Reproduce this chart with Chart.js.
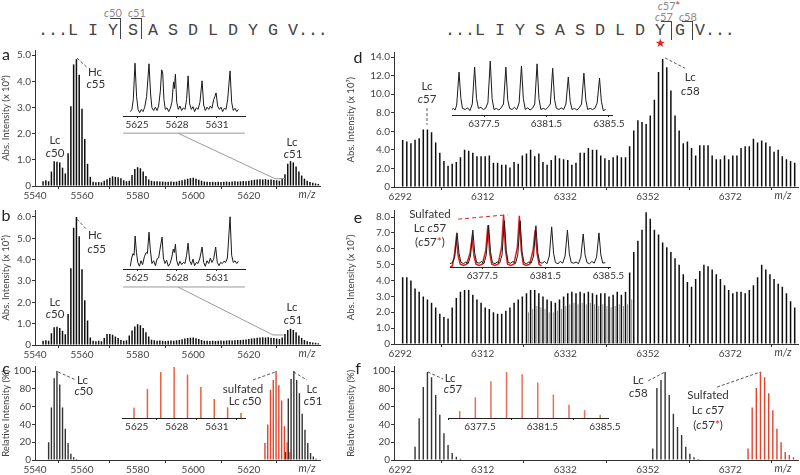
<!DOCTYPE html>
<html>
<head>
<meta charset="utf-8">
<script src="https://cdn.jsdelivr.net/npm/chart.js@4.4.1/dist/chart.umd.min.js"></script>
<style>
  body { margin: 0; background: #fff; width: 800px; height: 475px; overflow: hidden; position: relative; font-family: Lato, "Open Sans", sans-serif; color: #333; }
  canvas { position: absolute; }
  .t { position: absolute; white-space: pre; transform: translate(-50%, -50%); line-height: 1; }
  .seq { position: absolute; font-family: "Liberation Mono", monospace; font-size: 16.67px; line-height: 1; white-space: pre; color: #444; }
  .br { position: absolute; border-top: 1.3px solid #444; border-right: 1.3px solid #444; }
  .lab { font-size: 16px; color: #222; }
  .cut { font-size: 11px; color: #8a8a8a; }
</style>
</head>
<body>

<div class="seq" style="left:38px;top:23px">...L I Y S A S D L D Y G V...</div>
<div class="br" style="left:110px;top:18px;width:10px;height:20px"></div>
<div class="br" style="left:131px;top:18px;width:10px;height:20px"></div>
<div class="t cut" style="left:113px;top:12px"><i>c</i>50</div>
<div class="t cut" style="left:137px;top:12px"><i>c</i>51</div>

<div class="seq" style="left:445px;top:23px">...L I Y S A S D L D Y G V...</div>
<div class="br" style="left:661px;top:21px;width:10px;height:18px"></div>
<div class="br" style="left:682px;top:21px;width:10px;height:18px"></div>
<div class="t cut" style="left:669px;top:5px"><i>c</i>57<span style="color:#d22">*</span></div>
<div class="t cut" style="left:664px;top:16px"><i>c</i>57</div>
<div class="t cut" style="left:688px;top:16px"><i>c</i>58</div>
<div class="t" style="left:660px;top:43px;color:#d22;font-size:12px">★</div>

<script>
// ---- axes ----
const xTicksLeft = [5540, 5560, 5580, 5600, 5620];
const xTicksRight = [6292, 6312, 6332, 6352, 6372];
const xTicksInsetLeft = [5625, 5628, 5631];
const xTicksInsetRight = [6377.5, 6381.5, 6385.5];
const yTicksA = [0, 1, 2, 3, 4, 5];
const yTicksB = [0, 1, 2, 3, 4, 5, 6];
const yTicksD = [0, 2, 4, 6, 8, 10, 12, 14];
const yTicksE = [0, 1, 2, 3, 4, 5, 6, 7, 8];
const yTicksRel = [0, 20, 40, 60, 80, 100];

// ---- panel a / b: first peak m/z, one peak per Da ----
const mzStartAB = 5546;
const heightsA = [0.18, 0.22, 0.18, 0.55, 0.95, 0.93, 0.9, 0.7, 0.48, 1.25,
  3.05, 4.65, 4.85, 4.25, 2.95, 1.8, 0.85, 0.35, 0.16, 0.14,
  0.15, 0.14, 0.2, 0.26, 0.32, 0.37, 0.35, 0.33, 0.3, 0.22,
  0.18, 0.2, 0.42, 0.65, 0.72, 0.68, 0.55, 0.38, 0.25, 0.2,
  0.18, 0.18, 0.17, 0.17, 0.16, 0.16, 0.17, 0.16, 0.17, 0.2,
  0.22, 0.25, 0.28, 0.3, 0.32, 0.28, 0.24, 0.2, 0.17, 0.16,
  0.15, 0.16, 0.15, 0.16, 0.15, 0.16, 0.17, 0.16, 0.17, 0.18,
  0.17, 0.18, 0.19, 0.18, 0.2, 0.22, 0.24, 0.25, 0.26, 0.25,
  0.26, 0.24, 0.25, 0.23, 0.22, 0.2, 0.3, 0.45, 0.85, 0.95,
  0.9, 0.75, 0.55, 0.4, 0.28, 0.2, 0.15, 0.12, 0.1, 0.08];
const heightsB = [0.2, 0.22, 0.2, 0.55, 0.83, 0.86, 0.8, 0.67, 0.5, 1.45,
  3.6, 5.5, 6.0, 5.1, 3.55, 2.1, 1.15, 0.35, 0.2, 0.18,
  0.2, 0.18, 0.33, 0.52, 0.52, 0.48, 0.4, 0.33, 0.24, 0.2,
  0.22, 0.45, 0.68, 0.87, 0.97, 0.92, 0.8, 0.6, 0.4, 0.25,
  0.22, 0.2, 0.21, 0.2, 0.19, 0.2, 0.21, 0.2, 0.22, 0.24,
  0.27, 0.3, 0.33, 0.34, 0.35, 0.32, 0.28, 0.24, 0.2, 0.2,
  0.19, 0.2, 0.19, 0.2, 0.21, 0.2, 0.21, 0.22, 0.21, 0.22,
  0.23, 0.24, 0.25, 0.26, 0.28, 0.3, 0.32, 0.34, 0.35, 0.36,
  0.35, 0.36, 0.34, 0.33, 0.3, 0.28, 0.35, 0.52, 0.7, 0.76,
  0.7, 0.6, 0.45, 0.33, 0.24, 0.17, 0.14, 0.12, 0.1, 0.08];

// ---- panel c (relative %) ----
const mzStartC50 = 5548;
const relC50 = [20, 59, 92, 100, 85, 59, 35, 19, 7, 3, 1.2, 0.5];
const mzStartC50Sulf = 5625.8;
const relC50Sulf = [19, 40, 79, 90, 100, 84, 67, 38, 20, 9];
const mzStartC51 = 5633.2;
const relC51 = [9, 69, 91, 100, 90, 75, 52, 34, 19, 8, 4, 1.5];

// ---- panel d / e ----
const mzStartDE = 6292.6;
const heightsD = [5.07, 4.9, 4.7, 5.1, 5.25, 6.2, 6.2, 5.9, 4.8, 3.7,
  2.8, 2.3, 2.5, 2.7, 3.2, 4.0, 3.9, 3.7, 3.3, 3.3,
  3.3, 3.4, 2.6, 2.6, 2.4, 2.4, 2.1, 2.7, 2.5, 3.4,
  3.6, 4.0, 3.3, 3.6, 2.7, 2.4, 2.9, 3.4, 3.1, 3.0,
  2.9, 2.4, 2.6, 3.7, 3.7, 4.2, 4.0, 4.0, 3.4, 3.1,
  2.9, 3.2, 3.4, 3.2, 3.2, 4.4, 6.1, 7.2, 7.0, 6.8,
  7.7, 9.4, 12.4, 13.8, 12.9, 10.4, 7.7, 6.1, 4.7, 4.9,
  4.2, 3.4, 4.5, 4.5, 4.5, 3.4, 3.0, 3.0, 3.4, 3.0,
  3.4, 3.4, 4.2, 4.4, 4.4, 5.2, 4.8, 5.0, 4.8, 4.4,
  3.8, 4.0, 3.3, 3.0, 2.8, 2.6];
const heightsE = [4.2, 4.2, 4.0, 3.5, 3.3, 3.0, 2.8, 2.6, 2.3, 1.9,
  1.7, 1.6, 2.3, 2.9, 3.3, 3.4, 3.4, 3.1, 2.8, 2.6,
  2.3, 2.2, 2.0, 1.9, 1.9, 2.1, 2.3, 2.6, 2.8, 3.0,
  3.2, 3.4, 3.4, 3.2, 3.0, 2.8, 2.7, 2.6, 2.8, 3.0,
  3.2, 3.3, 3.2, 3.3, 3.2, 3.3, 3.2, 3.1, 3.2, 3.2,
  3.0, 3.1, 3.3, 3.1, 3.3, 4.5, 5.8, 6.5, 7.2, 8.3,
  7.9, 7.2, 6.9, 6.4, 6.1, 5.8, 5.4, 5.0, 4.4, 3.9,
  3.6, 4.1, 4.6, 5.0, 4.9, 4.7, 4.4, 4.1, 3.7, 3.4,
  3.2, 3.3, 3.3, 3.2, 3.4, 3.7, 4.2, 5.0, 4.7, 4.4,
  4.1, 3.8, 3.6, 3.2, 2.7, 2.3, 2.1];
const mzStartEMinor = 6323.1;
const heightsEMinor = [2.0, 2.2, 2.4, 2.3, 2.2, 2.0, 2.0, 2.1, 2.2, 2.4,
  2.5, 2.6, 2.5, 2.6, 2.5, 2.6, 2.5, 2.4, 2.5, 2.4,
  2.3, 2.4, 2.5, 2.4, 2.5, 2.8];

// ---- panel f (relative %) ----
const mzStartF57 = 6295.6;
const relF57 = [15, 47, 82, 99, 93, 73, 51, 30, 17, 8, 3.7, 1.5];
const mzStartF58 = 6353.2;
const relF58 = [13, 81, 90, 99, 73, 52, 37, 28, 15, 7, 3, 1];
const mzStartF57Sulf = 6376.3;
const relF57Sulf = [13, 59, 81, 99, 93, 75, 56, 35, 20, 9, 5.5, 3];

// ---- insets ----
const insetAProfile = [[5624.5,0.08],[5624.62,0.12],[5624.72,0.3],[5624.85,0.96],[5624.97,0.35],[5625.08,0.12],[5625.2,0.06],[5625.32,0.12],[5625.45,0.08],[5625.58,0.16],[5625.72,0.35],[5625.9,0.95],[5626.02,0.4],[5626.12,0.15],[5626.25,0.1],[5626.38,0.16],[5626.5,0.1],[5626.62,0.18],[5626.75,0.45],[5626.85,0.84],[5626.93,0.78],[5627.02,0.3],[5627.12,0.12],[5627.25,0.15],[5627.38,0.08],[5627.5,0.14],[5627.62,0.25],[5627.74,0.62],[5627.8,0.5],[5627.88,0.76],[5627.98,0.25],[5628.1,0.12],[5628.22,0.18],[5628.35,0.1],[5628.48,0.15],[5628.6,0.12],[5628.72,0.3],[5628.83,0.73],[5628.95,0.22],[5629.08,0.12],[5629.2,0.17],[5629.32,0.08],[5629.45,0.15],[5629.58,0.12],[5629.72,0.25],[5629.88,0.64],[5630.0,0.2],[5630.12,0.1],[5630.25,0.16],[5630.38,0.12],[5630.5,0.18],[5630.62,0.14],[5630.75,0.3],[5630.85,0.36],[5630.93,0.42],[5631.05,0.18],[5631.18,0.12],[5631.3,0.16],[5631.42,0.08],[5631.55,0.14],[5631.68,0.12],[5631.8,0.3],[5631.98,0.82],[5632.1,0.25],[5632.22,0.1],[5632.35,0.14],[5632.48,0.08],[5632.6,0.12]];
const insetBProfile = [[5624.5,0.05],[5624.6,0.2],[5624.7,0.28],[5624.78,0.25],[5624.86,0.6],[5624.96,0.3],[5625.06,0.12],[5625.18,0.05],[5625.3,0.15],[5625.42,0.08],[5625.55,0.22],[5625.68,0.3],[5625.78,0.28],[5625.9,0.67],[5626.0,0.35],[5626.12,0.1],[5626.25,0.15],[5626.38,0.06],[5626.5,0.18],[5626.62,0.2],[5626.72,0.35],[5626.88,0.58],[5626.98,0.2],[5627.1,0.1],[5627.22,0.16],[5627.35,0.05],[5627.48,0.1],[5627.6,0.2],[5627.72,0.36],[5627.8,0.3],[5627.88,0.45],[5627.98,0.15],[5628.1,0.06],[5628.22,0.14],[5628.35,0.08],[5628.48,0.12],[5628.6,0.1],[5628.72,0.25],[5628.83,0.47],[5628.95,0.15],[5629.08,0.08],[5629.2,0.18],[5629.32,0.06],[5629.45,0.12],[5629.58,0.1],[5629.72,0.2],[5629.88,0.4],[5630.0,0.12],[5630.12,0.05],[5630.25,0.15],[5630.38,0.1],[5630.5,0.2],[5630.62,0.12],[5630.75,0.18],[5630.9,0.4],[5631.02,0.12],[5631.15,0.06],[5631.28,0.12],[5631.4,0.1],[5631.52,0.14],[5631.65,0.12],[5631.78,0.2],[5631.98,0.95],[5632.1,0.25],[5632.22,0.12],[5632.35,0.15],[5632.48,0.1],[5632.6,0.14]];
const insetCMzStart = 5624.8;
const insetCRel = [20, 57, 90, 100, 85, 61, 37, 21, 10];
const insetDProfile = [[6375.45,0.1],[6375.55,0.12],[6375.65,0.09],[6375.75,0.18],[6375.9,0.78],[6376.02,0.3],[6376.12,0.12],[6376.3,0.1],[6376.45,0.13],[6376.6,0.08],[6376.75,0.2],[6376.9,0.87],[6377.02,0.3],[6377.14,0.12],[6377.3,0.14],[6377.45,0.1],[6377.6,0.12],[6377.75,0.22],[6377.9,0.98],[6378.02,0.3],[6378.14,0.1],[6378.3,0.12],[6378.45,0.09],[6378.6,0.13],[6378.75,0.2],[6378.9,0.87],[6379.02,0.28],[6379.14,0.12],[6379.3,0.1],[6379.45,0.14],[6379.6,0.1],[6379.75,0.22],[6379.9,0.89],[6380.02,0.3],[6380.14,0.1],[6380.3,0.13],[6380.45,0.09],[6380.6,0.12],[6380.75,0.2],[6380.9,0.93],[6381.02,0.3],[6381.14,0.1],[6381.3,0.12],[6381.45,0.1],[6381.6,0.14],[6381.75,0.2],[6381.9,0.85],[6382.02,0.28],[6382.14,0.12],[6382.3,0.1],[6382.45,0.13],[6382.6,0.1],[6382.75,0.2],[6382.9,0.69],[6383.02,0.25],[6383.14,0.1],[6383.3,0.12],[6383.45,0.09],[6383.6,0.13],[6383.75,0.2],[6383.9,0.76],[6384.02,0.28],[6384.14,0.1],[6384.3,0.12],[6384.45,0.1],[6384.6,0.12],[6384.75,0.22],[6384.9,0.67],[6385.02,0.25],[6385.14,0.08],[6385.3,0.1]];
const insetEProfile = [[6375.45,0.06],[6375.6,0.08],[6375.75,0.18],[6375.9,0.62],[6376.02,0.25],[6376.14,0.09],[6376.3,0.06],[6376.45,0.09],[6376.6,0.06],[6376.75,0.2],[6376.9,0.67],[6377.02,0.25],[6377.14,0.08],[6377.3,0.07],[6377.45,0.1],[6377.6,0.06],[6377.75,0.22],[6377.9,0.76],[6378.02,0.28],[6378.14,0.08],[6378.3,0.06],[6378.45,0.09],[6378.6,0.07],[6378.75,0.22],[6378.9,0.84],[6379.02,0.3],[6379.14,0.08],[6379.3,0.07],[6379.45,0.1],[6379.6,0.06],[6379.75,0.22],[6379.9,0.84],[6380.02,0.28],[6380.14,0.08],[6380.3,0.06],[6380.45,0.09],[6380.6,0.07],[6380.75,0.2],[6380.9,0.75],[6381.02,0.26],[6381.14,0.08],[6381.3,0.07],[6381.45,0.1],[6381.6,0.06],[6381.75,0.2],[6381.9,0.73],[6382.02,0.25],[6382.14,0.08],[6382.3,0.06],[6382.45,0.1],[6382.6,0.07],[6382.75,0.2],[6382.9,0.67],[6383.02,0.24],[6383.14,0.08],[6383.3,0.07],[6383.45,0.09],[6383.6,0.06],[6383.75,0.18],[6383.9,0.6],[6384.02,0.22],[6384.14,0.08],[6384.3,0.06],[6384.45,0.1],[6384.6,0.07],[6384.75,0.18],[6384.9,0.62],[6385.02,0.22],[6385.14,0.07],[6385.3,0.08]];
const insetESulfProfile = [[6375.45,0.0],[6375.6,0.02],[6375.72,0.2],[6375.85,0.53],[6375.97,0.2],[6376.1,0.05],[6376.3,0.03],[6376.5,0.05],[6376.72,0.25],[6376.85,0.53],[6376.97,0.2],[6377.1,0.05],[6377.3,0.03],[6377.5,0.05],[6377.72,0.3],[6377.85,0.76],[6377.97,0.25],[6378.1,0.05],[6378.3,0.03],[6378.5,0.05],[6378.72,0.35],[6378.85,0.95],[6378.97,0.3],[6379.1,0.05],[6379.3,0.03],[6379.5,0.05],[6379.72,0.35],[6379.85,0.93],[6379.97,0.3],[6380.1,0.05],[6380.3,0.03],[6380.5,0.05],[6380.72,0.3],[6380.85,0.67],[6380.97,0.25],[6381.1,0.05],[6381.25,0.02]];
const insetFMzStart = 6376.2;
const insetFRel = [15, 45, 80, 100, 95, 77, 51, 29, 17, 7];

// ---------------------------------------------------------------
Chart.defaults.font.family = "Lato, 'Open Sans', sans-serif";
Chart.defaults.font.size = 10;
Chart.defaults.color = '#444';

const INK = '#0e0e0e';
const RED = '#e2432b';

function sticks(start, values) {
  return values.map((v, i) => ({ x: start + i, y: v }));
}
function pairs(list) {
  return list.map(p => ({ x: p[0], y: p[1] }));
}

// draws labels and leader lines in data units of the chart
function notesPlugin(items, mzLabel) {
  return {
    id: 'notes',
    afterDatasetsDraw(chart) {
      const { ctx, chartArea } = chart;
      const sx = chart.scales.x, sy = chart.scales.y;
      items.forEach(it => {
        ctx.save();
        if (it.line) {
          ctx.strokeStyle = it.color || '#555';
          ctx.lineWidth = it.w || 1;
          ctx.setLineDash(it.dash || []);
          ctx.beginPath();
          it.line.forEach((p, i) => {
            const px = sx.getPixelForValue(p[0]), py = sy.getPixelForValue(p[1]);
            if (i) ctx.lineTo(px, py); else ctx.moveTo(px, py);
          });
          ctx.stroke();
        } else {
          const size = it.size || 11.5;
          const fnt = p => (p[1] ? 'italic ' : '') + size + "px Lato, 'Open Sans', sans-serif";
          let w = 0;
          it.text.forEach(p => { ctx.font = fnt(p); w += ctx.measureText(p[0]).width; });
          let px = sx.getPixelForValue(it.x) - w / 2;
          const py = sy.getPixelForValue(it.y);
          ctx.textBaseline = 'middle';
          it.text.forEach(p => {
            ctx.font = fnt(p);
            ctx.fillStyle = p[2] || '#333';
            ctx.fillText(p[0], px, py);
            px += ctx.measureText(p[0]).width;
          });
        }
        ctx.restore();
      });
      if (mzLabel) {
        ctx.save();
        ctx.font = "italic 10.5px Lato, 'Open Sans', sans-serif";
        ctx.fillStyle = '#444';
        ctx.textAlign = 'center';
        ctx.textBaseline = 'middle';
        ctx.fillText('m/z', chartArea.right - mzLabel, chartArea.bottom + 9);
        ctx.restore();
      }
    }
  };
}

function addCanvas(box) {
  const c = document.createElement('canvas');
  c.width = box.w; c.height = box.h;
  c.style.left = box.x + 'px';
  c.style.top = box.y + 'px';
  c.style.width = box.w + 'px';
  c.style.height = box.h + 'px';
  document.body.appendChild(c);
  return c;
}

function axisGrid() {
  return { drawOnChartArea: false, drawTicks: true, tickLength: 3, tickColor: '#333' };
}

function mainPanel(p) {
  const canvas = addCanvas(p.box);
  return new Chart(canvas, {
    type: 'bar',
    data: { datasets: p.datasets },
    options: {
      responsive: false,
      animation: false,
      devicePixelRatio: 1,
      layout: { padding: { top: p.padTop, right: p.padRight, left: 0, bottom: 0 } },
      plugins: { legend: { display: false }, tooltip: { enabled: false } },
      scales: {
        x: {
          type: 'linear', min: p.xMin, max: p.xMax, offset: false,
          grid: axisGrid(),
          border: { color: '#333' },
          ticks: { padding: 1, autoSkip: false, maxRotation: 0, callback: (v, i) => String(p.xTicks[i]) },
          afterBuildTicks: s => { s.ticks = p.xTicks.map(v => ({ value: Math.max(v, s.min) })); },
          afterFit: s => { s.height = p.xH; }
        },
        y: {
          min: 0, max: p.yMax,
          grid: axisGrid(),
          border: { color: '#333' },
          ticks: { padding: 1, callback: v => (v === 0 ? '0' : v.toFixed(p.dec)) },
          afterBuildTicks: s => { s.ticks = p.yTicks.map(v => ({ value: v })); },
          afterFit: s => { s.width = p.yW; },
          title: { display: true, text: p.title, padding: 0, color: '#444', font: { size: 9.5 } }
        }
      }
    },
    plugins: [notesPlugin(p.notes, p.mzOff)]
  });
}

function insetPanel(p) {
  const canvas = addCanvas(p.box);
  return new Chart(canvas, {
    type: p.type,
    data: { datasets: p.datasets },
    options: {
      responsive: false,
      animation: false,
      devicePixelRatio: 1,
      layout: { padding: { top: 2, right: p.padRight, left: 0, bottom: 0 } },
      plugins: { legend: { display: false }, tooltip: { enabled: false } },
      elements: { point: { radius: 0 }, line: { tension: 0 } },
      scales: {
        x: {
          type: 'linear', min: p.xMin, max: p.xMax, offset: false,
          grid: { drawOnChartArea: false, drawTicks: true, tickLength: 2, tickColor: '#222' },
          border: { color: '#222' },
          ticks: { padding: 1, autoSkip: false, maxRotation: 0, color: '#333', callback: (v, i) => String(p.xTicks[i]) },
          afterBuildTicks: s => { s.ticks = p.xTicks.map(v => ({ value: v })); },
          afterFit: s => { s.height = 15; }
        },
        y: { display: false, min: 0, max: p.yMax }
      }
    },
    plugins: [notesPlugin(p.notes || [], 0)]
  });
}

// grouped:false ignores barThickness, so the width is capped with maxBarThickness;
// inflateAmount 0 keeps the sticks from being widened by Chart.js
function barSet(data, color, thick) {
  const w = thick || 1.5;
  return { data, backgroundColor: color, barThickness: w, maxBarThickness: w, inflateAmount: 0, borderWidth: 0, grouped: false };
}
function lineSet(data, color, width) {
  return { data, borderColor: color, borderWidth: width || 1, pointRadius: 0, fill: false, tension: 0 };
}

const dash = [3, 2];

// ---------------- left column ----------------
mainPanel({
  box: { x: 0, y: 40, w: 323, h: 165 }, padTop: 10, padRight: 3, xH: 19, yW: 35,
  xMin: 5543.1, xMax: 5645.6, xTicks: xTicksLeft, yMax: 5.2, yTicks: yTicksA, dec: 1,
  title: 'Abs. Intensity (x 10⁶)', mzOff: 13,
  datasets: [barSet(sticks(mzStartAB, heightsA), INK)],
  notes: [
    { text: [['Hc']], x: 5564.7, y: 4.35 },
    { text: [['c', 1], ['55']], x: 5565, y: 3.9 },
    { line: [[5558.2, 4.89], [5562.2, 4.5]], dash },
    { text: [['Lc']], x: 5550.3, y: 1.76 },
    { text: [['c', 1], ['50']], x: 5550.3, y: 1.26 },
    { text: [['Lc']], x: 5635.5, y: 1.68 },
    { text: [['c', 1], ['51']], x: 5635.9, y: 1.22 },
    { line: [[5574.8, 2.02], [5618.6, 2.02]], color: '#9a9a9a' },
    { line: [[5594.5, 2.02], [5629.4, 0.28], [5633, 0.28]], color: '#9a9a9a' }
  ]
});

mainPanel({
  box: { x: 0, y: 200, w: 323, h: 164 }, padTop: 10.6, padRight: 3, xH: 19, yW: 35,
  xMin: 5543.1, xMax: 5645.6, xTicks: xTicksLeft, yMax: 6.3, yTicks: yTicksB, dec: 1,
  title: 'Abs. Intensity (x 10⁵)', mzOff: 13,
  datasets: [barSet(sticks(mzStartAB, heightsB), INK)],
  notes: [
    { text: [['Hc']], x: 5564.7, y: 5.16 },
    { text: [['c', 1], ['55']], x: 5565.3, y: 4.5 },
    { line: [[5558.2, 5.9], [5561.8, 5.4]], dash },
    { text: [['Lc']], x: 5550.3, y: 2.0 },
    { text: [['c', 1], ['50']], x: 5550.3, y: 1.45 },
    { text: [['Lc']], x: 5635.5, y: 1.78 },
    { text: [['c', 1], ['51']], x: 5635.9, y: 1.14 },
    { line: [[5574.8, 2.72], [5618.6, 2.72]], color: '#9a9a9a' },
    { line: [[5594.5, 2.72], [5628.7, 0.47], [5632.5, 0.47]], color: '#9a9a9a' }
  ]
});

mainPanel({
  box: { x: 0, y: 356, w: 323, h: 119 }, padTop: 10.6, padRight: 3, xH: 15, yW: 35,
  xMin: 5543.1, xMax: 5645.6, xTicks: xTicksLeft, yMax: 105, yTicks: yTicksRel, dec: 0,
  title: 'Relative Intensity (%)', mzOff: 13,
  datasets: [
    barSet(sticks(mzStartC50, relC50), '#333', 1.4),
    barSet(sticks(mzStartC50Sulf, relC50Sulf), RED, 1.4),
    barSet(sticks(mzStartC51, relC51), '#333', 1.4)
  ],
  notes: [
    { line: [[5551.4, 99], [5557.8, 90]], dash },
    { text: [['Lc']], x: 5560.2, y: 90 },
    { text: [['c', 1], ['50']], x: 5560.6, y: 77 },
    { line: [[5621.5, 90], [5629.6, 99]], dash },
    { text: [['sulfated']], x: 5617.9, y: 80 },
    { text: [['Lc '], ['c', 1], ['50']], x: 5618.6, y: 66 },
    { line: [[5636.1, 99], [5640.9, 90]], dash },
    { text: [['Lc']], x: 5642.7, y: 80 },
    { text: [['c', 1], ['51']], x: 5643.1, y: 66 }
  ]
});

// ---------------- right column ----------------
mainPanel({
  box: { x: 345, y: 42, w: 455, h: 164 }, padTop: 10.4, padRight: 2, xH: 19, yW: 49,
  xMin: 6290.5, xMax: 6388.4, xTicks: xTicksRight, yMax: 14.5, yTicks: yTicksD, dec: 1,
  title: 'Abs. Intensity (x 10⁷)', mzOff: 15,
  datasets: [barSet(sticks(mzStartDE, heightsD), INK)],
  notes: [
    { text: [['Lc']], x: 6298.5, y: 10.8 },
    { text: [['c', 1], ['57']], x: 6298.5, y: 9.4 },
    { line: [[6298.5, 8.5], [6298.5, 6.7]], dash },
    { line: [[6356.2, 13.9], [6361.0, 12.8]], dash },
    { text: [['Lc']], x: 6362.3, y: 11.8 },
    { text: [['c', 1], ['58']], x: 6362.3, y: 10.3 }
  ]
});

mainPanel({
  box: { x: 345, y: 202, w: 455, h: 161 }, padTop: 8.7, padRight: 2, xH: 19, yW: 49,
  xMin: 6290.5, xMax: 6388.4, xTicks: xTicksRight, yMax: 8.4, yTicks: yTicksE, dec: 1,
  title: 'Abs. Intensity (x 10⁷)', mzOff: 15,
  datasets: [
    barSet(sticks(mzStartEMinor, heightsEMinor), '#8c8c8c', 1),
    barSet(sticks(mzStartDE, heightsE), INK)
  ],
  notes: [
    { text: [['Sulfated']], x: 6299.2, y: 8.2 },
    { text: [['Lc '], ['c', 1], ['57']], x: 6299.2, y: 7.3 },
    { text: [['('], ['c', 1], ['57'], ['*', 0, '#d22'], [')']], x: 6299.2, y: 6.4 }
  ]
});

mainPanel({
  box: { x: 345, y: 356, w: 455, h: 119 }, padTop: 10.6, padRight: 2, xH: 15, yW: 49,
  xMin: 6290.5, xMax: 6388.4, xTicks: xTicksRight, yMax: 105, yTicks: yTicksRel, dec: 0,
  title: 'Relative Intensity (%)', mzOff: 15,
  datasets: [
    barSet(sticks(mzStartF57, relF57), '#333', 1.4),
    barSet(sticks(mzStartF58, relF58), '#333', 1.4),
    barSet(sticks(mzStartF57Sulf, relF57Sulf), RED, 1.4)
  ],
  notes: [
    { line: [[6298.7, 99], [6302.4, 91]], dash },
    { text: [['Lc']], x: 6304.1, y: 92 },
    { text: [['c', 1], ['57']], x: 6304.8, y: 79 },
    { text: [['Lc']], x: 6349.7, y: 90 },
    { text: [['c', 1], ['58']], x: 6349.7, y: 75 },
    { line: [[6352.1, 89], [6356.2, 99]], dash },
    { line: [[6368.8, 82], [6379.3, 99]], dash },
    { text: [['Sulfated']], x: 6366.6, y: 73 },
    { text: [['Lc '], ['c', 1], ['57']], x: 6366.6, y: 56 },
    { text: [['('], ['c', 1], ['57'], ['*', 0, '#d22'], [')']], x: 6366.6, y: 39 }
  ]
});

// ---------------- insets ----------------
insetPanel({
  type: 'line', box: { x: 123, y: 59, w: 125, h: 72 }, padRight: 3,
  xMin: 5623.95, xMax: 5633.1, xTicks: xTicksInsetLeft, yMax: 1.0,
  datasets: [lineSet(pairs(insetAProfile), '#1a1a1a', 1)]
});
insetPanel({
  type: 'line', box: { x: 123, y: 212, w: 125, h: 72 }, padRight: 3,
  xMin: 5623.95, xMax: 5633.1, xTicks: xTicksInsetLeft, yMax: 1.0,
  datasets: [lineSet(pairs(insetBProfile), '#1a1a1a', 1)]
});
insetPanel({
  type: 'bar', box: { x: 122, y: 361, w: 126, h: 72 }, padRight: 3,
  xMin: 5623.9, xMax: 5633.1, xTicks: xTicksInsetLeft, yMax: 107.8,
  datasets: [barSet(sticks(insetCMzStart, insetCRel), '#e8603f', 1.5)]
});
insetPanel({
  type: 'line', box: { x: 452, y: 58, w: 176, h: 72 }, padRight: 16,
  xMin: 6375.45, xMax: 6385.7, xTicks: xTicksInsetRight, yMax: 1.0,
  datasets: [lineSet(pairs(insetDProfile), '#1a1a1a', 1)]
});
insetPanel({
  type: 'line', box: { x: 450, y: 210, w: 176, h: 72 }, padRight: 16,
  xMin: 6375.45, xMax: 6385.6, xTicks: xTicksInsetRight, yMax: 1.0,
  datasets: [
    lineSet(pairs(insetEProfile), '#1a1a1a', 1),
    lineSet(pairs(insetESulfProfile), '#dd1f1f', 1.5)
  ],
  notes: [{ line: [[6375.97, 0.87], [6379.1, 0.95]], color: '#dd1f1f', dash: [4, 3] }]
});
insetPanel({
  type: 'bar', box: { x: 448, y: 361, w: 176, h: 72 }, padRight: 16,
  xMin: 6375.45, xMax: 6385.7, xTicks: xTicksInsetRight, yMax: 119.6,
  datasets: [barSet(sticks(insetFMzStart, insetFRel), '#e8705a', 1.5)]
});
</script>

<div class="t lab" style="left:6px;top:54px">a</div>
<div class="t lab" style="left:6px;top:215px">b</div>
<div class="t lab" style="left:6px;top:368px">c</div>
<div class="t lab" style="left:358px;top:57px">d</div>
<div class="t lab" style="left:358px;top:217px">e</div>
<div class="t lab" style="left:358px;top:368px">f</div>
</body>
</html>
